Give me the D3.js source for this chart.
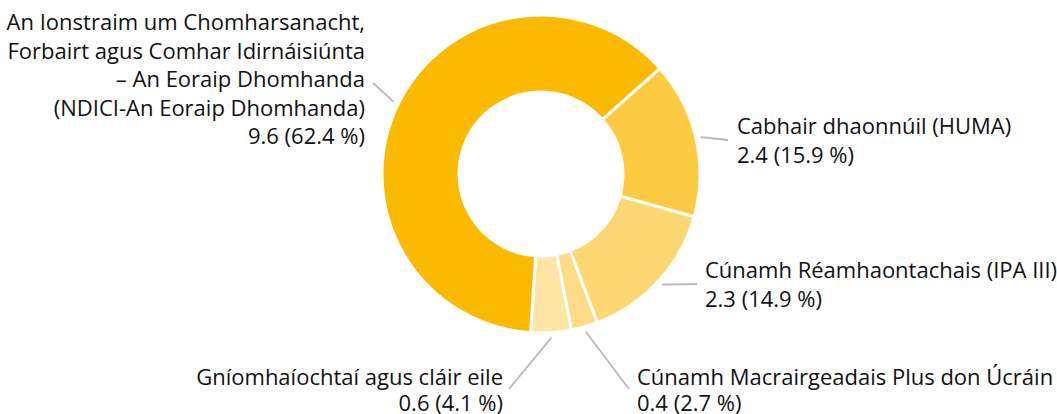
<!DOCTYPE html>
<html>
<head>
<meta charset="utf-8">
<script src="https://cdn.jsdelivr.net/npm/d3@7"></script>
<style>
  body { margin: 0; background: #fff; }
  svg { display: block; }
  .lbl { font-family: "Open Sans", sans-serif; font-size: 22px; fill: #111; }
</style>
</head>
<body>
<svg id="chart" width="1057" height="414"></svg>
<script>
// data, clockwise from the slice after the big one
const categories = [
  'Cabhair dhaonnúil (HUMA)',
  'Cúnamh Réamhaontachais (IPA III)',
  'Cúnamh Macrairgeadais Plus don Úcráin',
  'Gníomhaíochtaí agus cláir eile',
  'An Ionstraim um Chomharsanacht, Forbairt agus Comhar Idirnáisiúnta – An Eoraip Dhomhanda (NDICI-An Eoraip Dhomhanda)'
];
const amounts = [2.4, 2.3, 0.4, 0.6, 9.6];
const shares = [15.9, 14.9, 2.7, 4.1, 62.4];

// label text split into lines as in the picture
const labelLines = [
  ['Cabhair dhaonnúil (HUMA)'],
  ['Cúnamh Réamhaontachais (IPA III)'],
  ['Cúnamh Macrairgeadais Plus don Úcráin'],
  ['Gníomhaíochtaí agus cláir eile'],
  ['An Ionstraim um Chomharsanacht,', 'Forbairt agus Comhar Idirnáisiúnta', '– An Eoraip Dhomhanda', '(NDICI-An Eoraip Dhomhanda)']
];

const colors = ['#fccb41', '#fdd772', '#fddc85', '#fee5a4', '#fbba00'];

// label placement (first baseline, anchor, end of leader line)
const labelPos = [
  { x: 737, y: 134, anchor: 'start', lx: 728, ly: 140 },
  { x: 705, y: 278, anchor: 'start', lx: 697, ly: 284 },
  { x: 637, y: 385, anchor: 'start', lx: 629, ly: 389 },
  { x: 503, y: 385, anchor: 'end', lx: 509, ly: 389 },
  { x: 365, y: 30, anchor: 'end', lx: 373, ly: 83 }
];

const cx = 541, cy = 174;
const outerR = 159, innerR = 82;
const lineH = 28.5;
const start = 48.4 * Math.PI / 180;

const svg = d3.select('#chart');
const g = svg.append('g').attr('transform', `translate(${cx},${cy})`);

const pie = d3.pie()
  .sort(null)
  .value(d => d)
  .startAngle(start)
  .endAngle(start + 2 * Math.PI);

const arc = d3.arc().innerRadius(innerR).outerRadius(outerR);
const arcs = pie(shares);

g.selectAll('path')
  .data(arcs)
  .enter()
  .append('path')
  .attr('d', arc)
  .attr('fill', (d, i) => colors[i])
  .attr('stroke', '#fff')
  .attr('stroke-width', 3);

// leader lines + labels
const fmt = d3.format('.1f');
arcs.forEach((d, i) => {
  const mid = (d.startAngle + d.endAngle) / 2;
  const r0 = outerR + 5;
  const p = labelPos[i];
  svg.append('line')
    .attr('x1', cx + r0 * Math.sin(mid))
    .attr('y1', cy - r0 * Math.cos(mid))
    .attr('x2', p.lx)
    .attr('y2', p.ly)
    .attr('stroke', '#b8b8b8')
    .attr('stroke-width', 1.8);

  const lines = labelLines[i].concat([`${fmt(amounts[i])} (${fmt(shares[i])} %)`]);
  const t = svg.append('text')
    .attr('class', 'lbl')
    .attr('text-anchor', p.anchor);
  lines.forEach((s, j) => {
    t.append('tspan')
      .attr('x', p.x)
      .attr('y', p.y + j * (i >= 2 && i <= 3 ? 26 : lineH))
      .text(s);
  });
});
</script>
</body>
</html>
